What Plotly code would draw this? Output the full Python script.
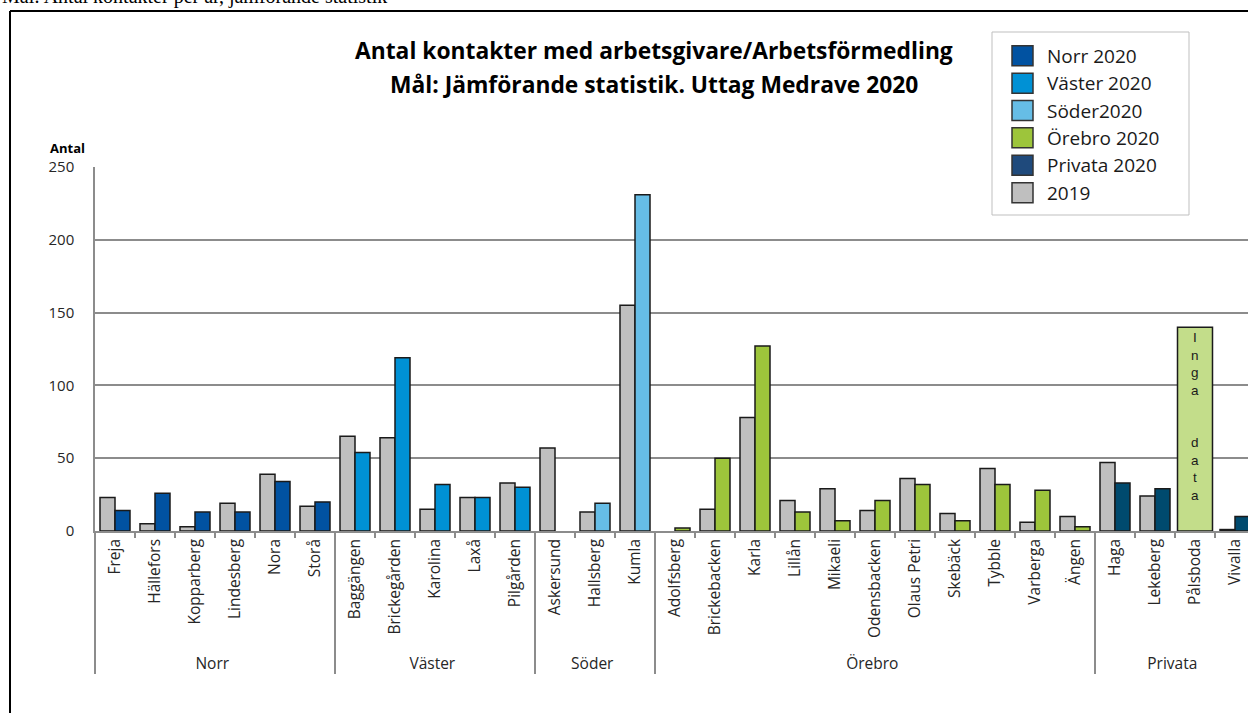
import plotly.graph_objects as go

# --- data -------------------------------------------------------------
regions = (["Norr"] * 6 + ["Väster"] * 5 + ["Söder"] * 3
           + ["Örebro"] * 11 + ["Privata"] * 4)
units = ["Freja", "Hällefors", "Kopparberg", "Lindesberg", "Nora", "Storå",
         "Baggängen", "Brickegården", "Karolina", "Laxå", "Pilgården",
         "Askersund", "Hallsberg", "Kumla",
         "Adolfsberg", "Brickebacken", "Karla", "Lillån", "Mikaeli",
         "Odensbacken", "Olaus Petri", "Skebäck", "Tybble", "Varberga", "Ängen",
         "Haga", "Lekeberg", "Pålsboda", "Vivalla"]
values_2019 = [23, 5, 3, 19, 39, 17,
               65, 64, 15, 23, 33,
               57, 13, 155,
               None, 15, 78, 21, 29, 14, 36, 12, 43, 6, 10,
               47, 24, None, 1]
values_2020 = [14, 26, 13, 13, 34, 20,
               54, 119, 32, 23, 30,
               None, 19, 231,
               2, 50, 127, 13, 7, 21, 32, 7, 32, 28, 3,
               33, 29, None, 10]
no_data_unit = "Pålsboda"
no_data_value = 140
no_data_text = "Inga  data"

series_2020 = ["Norr 2020", "Väster 2020", "Söder2020", "Örebro 2020", "Privata 2020"]
series_region = ["Norr", "Väster", "Söder", "Örebro", "Privata"]
legend_labels = series_2020 + ["2019"]
y_ticks = [0, 50, 100, 150, 200, 250]

title_lines = ["Antal kontakter med arbetsgivare/Arbetsförmedling",
               "Mål: Jämförande statistik. Uttag Medrave 2020"]
page_heading = "Mål: Antal kontakter per år, jämförande statistik"

# --- styling ------------------------------------------------------------
bar_colors = {"Norr": "#0152A1", "Väster": "#0091D5", "Söder": "#66BDE6",
              "Örebro": "#9DC53B", "Privata": "#004A6E"}
legend_colors = ["#0152A1", "#0091D5", "#66BDE6", "#9DC53B", "#1F4A7C", "#BFBFBF"]
gray = "#BFBFBF"
no_data_color = "#C3DD8A"
grid_color = "#8C8C8C"
outline = dict(color="#1A1A1A", width=1.5)
label_font = "Open Sans"

W, H = 1248, 713
ML, MR, MT, MB = 95, 0, 167, 182
PW, PH = W - ML - MR, H - MT - MB


def px_x(x):
    return (x - ML) / PW


def px_y(y):
    return (H - MB - y) / PH


bar_w = 0.375
fig = go.Figure()

fig.add_trace(go.Bar(
    x=[regions, units], y=values_2019, name="2019",
    marker=dict(color=gray, line=outline),
    width=bar_w, offset=-bar_w, showlegend=False,
))

for name, reg in zip(series_2020, series_region):
    idx = [i for i, r in enumerate(regions) if r == reg]
    fig.add_trace(go.Bar(
        x=[[regions[i] for i in idx], [units[i] for i in idx]],
        y=[values_2020[i] for i in idx], name=name,
        marker=dict(color=bar_colors[reg], line=outline),
        width=bar_w, offset=0, showlegend=False,
    ))

nd = units.index(no_data_unit)
fig.add_trace(go.Bar(
    x=[[regions[nd]], [units[nd]]], y=[no_data_value], name="Inga data",
    marker=dict(color=no_data_color, line=outline),
    width=0.875, offset=-0.4375, showlegend=False,
))

shapes = []
annotations = []

# vertical "Inga data" lettering inside the placeholder bar
letters = "<br>".join(ch if ch != " " else "" for ch in no_data_text)
annotations.append(dict(
    x=px_x(ML + (nd + 0.5) * 40), y=px_y(416), xref="paper", yref="paper",
    text=letters, showarrow=False, xanchor="center", yanchor="middle",
    font=dict(family="Liberation Sans", size=13.5, color="#1A1A1A"),
))

# outer chart frame
shapes.append(dict(type="line", xref="paper", yref="paper",
                   x0=px_x(10), x1=px_x(W + 5), y0=px_y(11), y1=px_y(11),
                   line=dict(color="black", width=2)))
shapes.append(dict(type="line", xref="paper", yref="paper",
                   x0=px_x(10), x1=px_x(10), y0=px_y(11), y1=px_y(H + 5),
                   line=dict(color="black", width=2)))

# legend box
shapes.append(dict(type="rect", xref="paper", yref="paper", layer="above",
                   x0=px_x(992), x1=px_x(1189), y0=px_y(215), y1=px_y(32),
                   fillcolor="white", line=dict(color="#BFBFBF", width=1)))
row_y = [55.7, 83.3, 110.5, 137.8, 165.2, 192.7]
for lab, col, yy in zip(legend_labels, legend_colors, row_y):
    shapes.append(dict(type="rect", xref="paper", yref="paper", layer="above",
                       x0=px_x(1012), x1=px_x(1033), y0=px_y(yy + 10), y1=px_y(yy - 10),
                       fillcolor=col, line=dict(color="#333333", width=1.5)))
    annotations.append(dict(x=px_x(1045), y=px_y(yy), xref="paper", yref="paper",
                            text=lab, showarrow=False, xanchor="left", yanchor="middle",
                            font=dict(family=label_font, size=19, color="#1A1A1A")))

# chart title
for line, yy in zip(title_lines, [50, 85]):
    annotations.append(dict(x=px_x(654), y=px_y(yy), xref="paper", yref="paper",
                            text="<b>" + line + "</b>", showarrow=False,
                            xanchor="center", yanchor="middle",
                            font=dict(family=label_font, size=22.8, color="black")))

# y-axis caption
annotations.append(dict(x=px_x(48), y=px_y(148), xref="paper", yref="paper",
                        text="<b>Antal</b>", showarrow=False, xanchor="left",
                        yanchor="middle",
                        font=dict(family=label_font, size=13, color="black")))

# page heading above the chart frame
annotations.append(dict(x=px_x(0), y=px_y(10), xref="paper", yref="paper",
                        text=page_heading, showarrow=False, xanchor="left",
                        yanchor="bottom",
                        font=dict(family="Liberation Serif", size=20, color="black")))

fig.update_layout(
    width=W, height=H,
    margin=dict(l=ML, r=MR, t=MT, b=MB, pad=0),
    paper_bgcolor="white", plot_bgcolor="white",
    barmode="overlay",
    shapes=shapes, annotations=annotations,
    showlegend=False,
    font=dict(family=label_font, color="#262626"),
)
fig.update_xaxes(
    type="multicategory", range=[-0.5, -0.5 + PW / 40],
    tickangle=-90, tickfont=dict(family=label_font, size=15.5, color="#262626"),
    showline=True, linecolor=grid_color, linewidth=1.5,
    ticks="outside", ticklen=5, tickcolor=grid_color, tickwidth=1.5,
    showdividers=True, dividercolor=grid_color, dividerwidth=1.5,
    showgrid=False,
)
fig.update_yaxes(
    range=[0, 250], tickvals=y_ticks,
    showgrid=True, gridcolor=grid_color, gridwidth=1.5,
    showline=True, linecolor=grid_color, linewidth=1.5,
    zeroline=False, ticks="", ticklabelstandoff=16,
    tickfont=dict(family="Open Sans", size=15, color="#262626"),
)

fig.write_html("out.html")
